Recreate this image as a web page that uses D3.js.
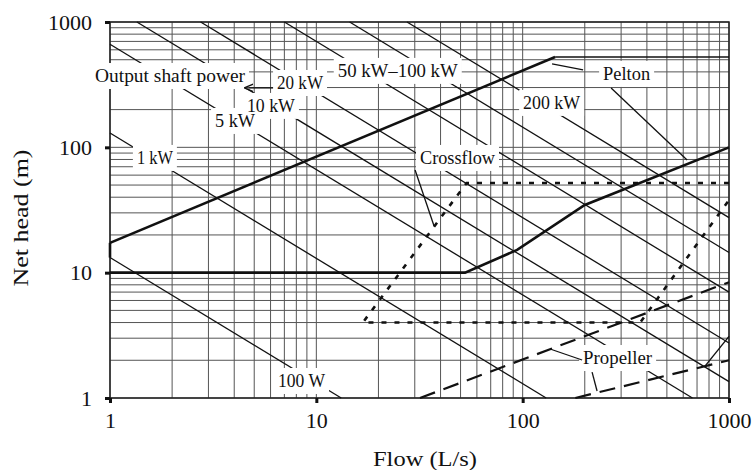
<!DOCTYPE html>
<html>
<head>
<meta charset="utf-8">
<script src="https://cdn.jsdelivr.net/npm/d3@7"></script>
<style>
  body { margin: 0; background: #fff; }
  text { font-family: "Times New Roman", "Liberation Serif", Tinos, Times, "DejaVu Serif", serif; fill: #111; }
</style>
</head>
<body>
<svg id="chart" width="755" height="470"></svg>
<script>
// axis ticks (log-log, flow in L/s, head in m)
const flowTicks = [1, 10, 100, 1000]
const headTicks = [1, 10, 100, 1000]

// lines of constant output shaft power: Q * H = const
const powerNames = ["100 W", "1 kW", "5 kW", "10 kW", "20 kW", "50 kW", "100 kW", "200 kW"]
const powerQH = [13.2, 130, 665, 1350, 2750, 7000, 14500, 27500]

// Pelton / crossflow envelope (thick solid)
const upperQ = [1, 143.6]
const upperH = [17.3, 526]
const leftEdgeQ = [1, 1]
const leftEdgeH = [17.3, 13.2]
const peltonTopQ = [143.6, 1000]
const peltonTopH = [526, 526]
const lowerQ = [1, 52.6, 94, 200, 1000]
const lowerH = [10, 10, 15.2, 34.7, 100]

// crossflow range (dotted)
const crossQ = [1000, 53.5, 16.8, 371, 1000]
const crossH = [52, 52, 4, 4, 38]

// propeller range (dashed)
const propUpperQ = [31.8, 1000]
const propUpperH = [1, 8.4]
const propLowerQ = [180, 1000]
const propLowerH = [1, 2.0]
const propEdgeQ = [760, 1000]
const propEdgeH = [1.77, 3.1]

// annotation texts and where they start (data units)
const labelTexts = ["Output shaft power", "20 kW", "10 kW", "5 kW", "1 kW", "50 kW\u2013100 kW",
                    "200 kW", "Pelton", "Crossflow", "100 W", "Propeller"]
const labelQ = [0.846, 6.45, 4.61, 3.23, 1.35, 12.7, 100.5, 245.4, 31.8, 6.52, 196.3]
const labelH = [332, 292, 191.7, 145.4, 73.7, 364.7, 202.5, 345, 73.7, 1.224, 1.867]
const labelWidths = [150, 46, 48, 40, 36, 120, 57, 47, 75, 47, 69]

// leader lines [Q0, H0, Q1, H1]
const leaders = [
    [30.1, 66.0, 37.2, 23.6],     // crossflow
    [196.3, 414.7, 138.8, 463],   // pelton, to upper corner
    [268.3, 297.9, 626.6, 79.3],  // pelton, down to lower edge
    [194.1, 2.01, 135.8, 2.46],   // propeller, to upper dashes
    [217, 1.61, 229.4, 1.137]     // propeller, to lower dashes
]
const arrowLeader = [6.17, 298, 4.51, 298]

const svg = d3.select("#chart")
const margin = {left: 110, right: 26, top: 22, bottom: 72}
const width = 755 - margin.left - margin.right
const height = 470 - margin.top - margin.bottom

const x = d3.scaleLog().domain([1, 1000]).range([0, width])
const y = d3.scaleLog().domain([1, 1000]).range([height, 0])

const g = svg.append("g").attr("transform", "translate(" + margin.left + "," + margin.top + ")")

// log grid, every 1..9 x 10^k
let gridVals = []
for (let k = 0; k < 3; k++) {
    for (let m = 1; m < 10; m++) gridVals.push(m * Math.pow(10, k))
}
gridVals.push(1000)

g.append("g")
  .selectAll("line")
  .data(gridVals)
  .enter()
  .append("line")
  .attr("x1", d => x(d)).attr("x2", d => x(d))
  .attr("y1", 0).attr("y2", height)
  .attr("stroke", "#555").attr("stroke-width", 1)

g.append("g")
  .selectAll("line")
  .data(gridVals)
  .enter()
  .append("line")
  .attr("y1", d => y(d)).attr("y2", d => y(d))
  .attr("x1", 0).attr("x2", width)
  .attr("stroke", "#555").attr("stroke-width", 1)

g.append("rect")
  .attr("width", width).attr("height", height)
  .attr("fill", "none").attr("stroke", "#222").attr("stroke-width", 1.5)

const line = d3.line().x(d => x(d[0])).y(d => y(d[1]))
const zip = (qs, hs) => qs.map((q, i) => [q, hs[i]])

// power lines
g.append("g")
  .selectAll("path")
  .data(powerQH)
  .enter()
  .append("path")
  .attr("d", k => line([[Math.max(1, k / 1000), Math.min(1000, k)], [Math.min(1000, k), Math.max(1, k / 1000)]]))
  .attr("fill", "none").attr("stroke", "#111").attr("stroke-width", 1.3)

// envelopes
const curves = g.append("g").attr("fill", "none").attr("stroke", "#111")
curves.append("path").attr("d", line(zip(upperQ, upperH))).attr("stroke-width", 2.6)
curves.append("path").attr("d", line(zip(leftEdgeQ, leftEdgeH))).attr("stroke-width", 2.6)
curves.append("path").attr("d", line(zip(lowerQ, lowerH))).attr("stroke-width", 2.6)
curves.append("path").attr("d", line(zip(peltonTopQ, peltonTopH))).attr("stroke-width", 1.5)
curves.append("path").attr("d", line(zip(crossQ, crossH)))
  .attr("stroke-width", 2.6).attr("stroke-dasharray", "5,8")
curves.append("path").attr("d", line(zip(propUpperQ, propUpperH)))
  .attr("stroke-width", 2.2).attr("stroke-dasharray", "16,9")
curves.append("path").attr("d", line(zip(propLowerQ, propLowerH)))
  .attr("stroke-width", 2.2).attr("stroke-dasharray", "16,9")
curves.append("path").attr("d", line(zip(propEdgeQ, propEdgeH))).attr("stroke-width", 1.4)

// labels with white boxes behind them
const boxes = g.append("g")
const labels = g.append("g")
labels.selectAll("text")
  .data(labelTexts)
  .enter()
  .append("text")
  .attr("x", (d, i) => x(labelQ[i]))
  .attr("y", (d, i) => y(labelH[i]))
  .attr("font-size", 18)
  .attr("textLength", (d, i) => labelWidths[i])
  .attr("lengthAdjust", "spacingAndGlyphs")
  .text(d => d)
  .each(function () {
      let b = this.getBBox()
      boxes.append("rect")
        .attr("x", b.x - 4).attr("y", b.y - 3)
        .attr("width", b.width + 8).attr("height", b.height + 6)
        .attr("fill", "#fff")
  })

// leaders
const lead = g.append("g").attr("stroke", "#111").attr("stroke-width", 1.3)
lead.selectAll("line")
  .data(leaders)
  .enter()
  .append("line")
  .attr("x1", d => x(d[0])).attr("y1", d => y(d[1]))
  .attr("x2", d => x(d[2])).attr("y2", d => y(d[3]))

svg.append("defs").append("marker")
  .attr("id", "arrow").attr("viewBox", "0 0 10 10")
  .attr("refX", 9).attr("refY", 5)
  .attr("markerWidth", 7).attr("markerHeight", 7)
  .attr("orient", "auto")
  .append("path").attr("d", "M0,1 L10,5 L0,9").attr("fill", "none").attr("stroke", "#111").attr("stroke-width", 1.5)

lead.append("line")
  .attr("x1", x(arrowLeader[0])).attr("y1", y(arrowLeader[1]))
  .attr("x2", x(arrowLeader[2])).attr("y2", y(arrowLeader[3]))
  .attr("marker-end", "url(#arrow)")

// axes
const xAxis = g.append("g")
  .attr("transform", "translate(0," + height + ")")
  .call(d3.axisBottom(x).tickValues(flowTicks).tickFormat(d3.format("d")).tickSize(5).tickPadding(9))
const yAxis = g.append("g")
  .call(d3.axisLeft(y).tickValues(headTicks).tickFormat(d3.format("d")).tickSize(5).tickPadding(13))

;[xAxis, yAxis].forEach(a => {
    a.select(".domain").remove()
    a.attr("font-family", null)
    a.selectAll(".tick line").attr("stroke", "#111").attr("stroke-width", 3)
    a.selectAll(".tick text")
      .attr("font-size", 22)
      .attr("fill", "#111")
})

svg.append("text")
  .attr("x", 425).attr("y", 466)
  .attr("text-anchor", "middle")
  .attr("font-size", 22)
  .attr("textLength", 104)
  .attr("lengthAdjust", "spacingAndGlyphs")
  .text("Flow (L/s)")

svg.append("text")
  .attr("transform", "translate(28,218) rotate(-90)")
  .attr("text-anchor", "middle")
  .attr("font-size", 22)
  .attr("textLength", 137)
  .attr("lengthAdjust", "spacingAndGlyphs")
  .text("Net head (m)")
</script>
</body>
</html>
